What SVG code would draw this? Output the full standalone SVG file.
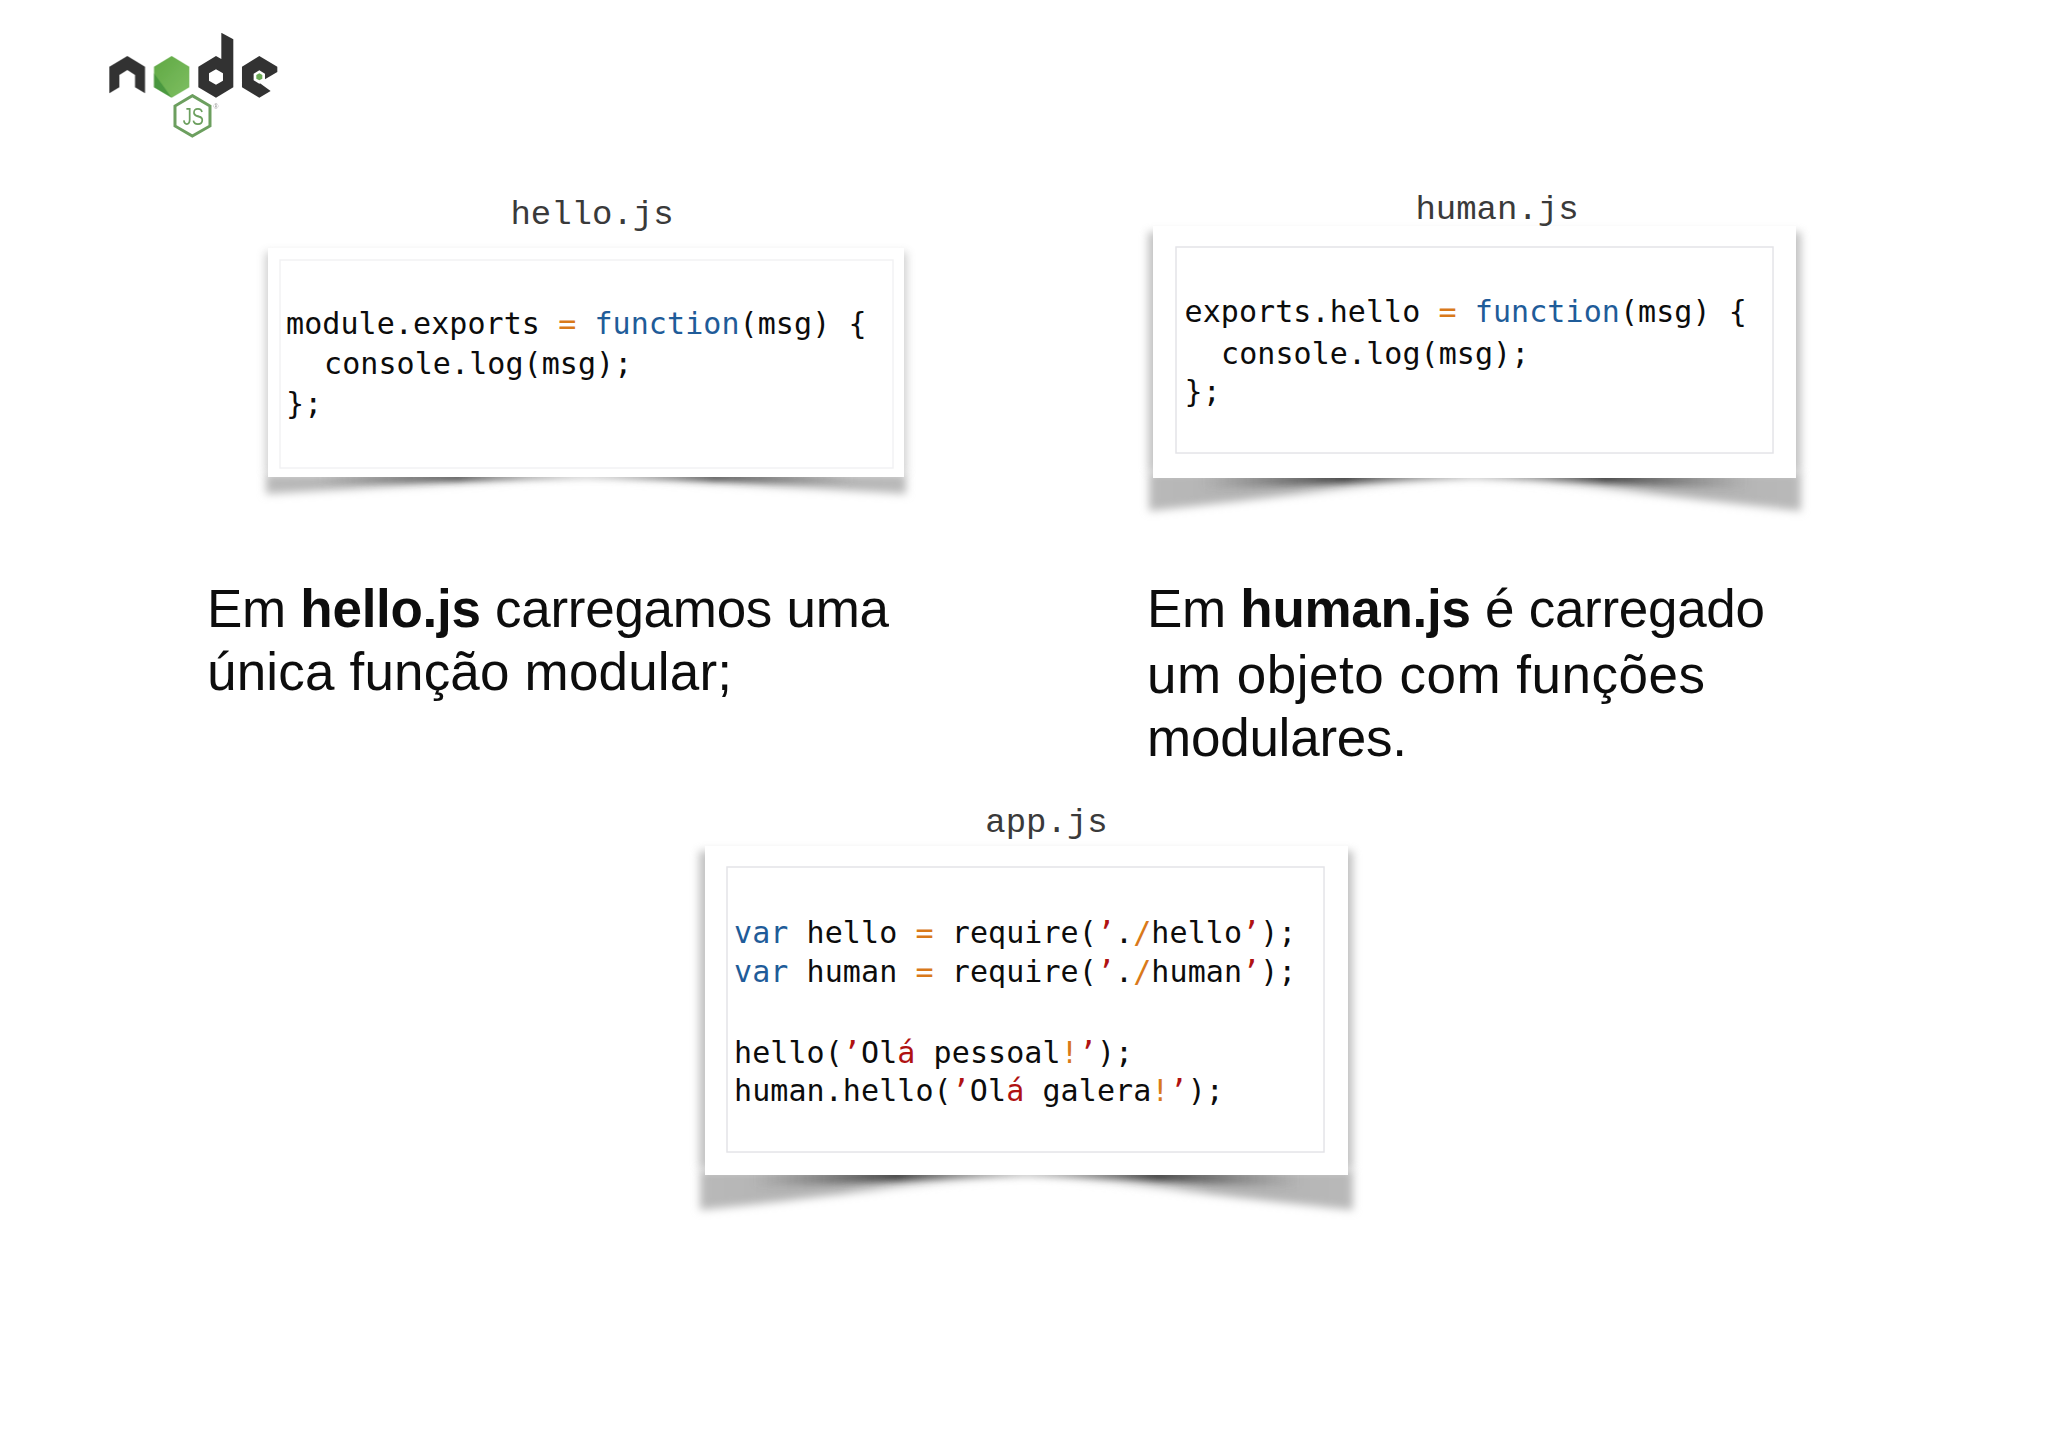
<svg xmlns="http://www.w3.org/2000/svg" width="2048" height="1448" viewBox="0 0 2048 1448">
<style>
.code{font-family:"DejaVu Sans Mono","Liberation Mono",monospace;font-size:30px;letter-spacing:.08px;fill:#0c0c0c;white-space:pre}
.kw{fill:#1f5c99}.op{fill:#d9791a}.st{fill:#b01212}
.file{font-family:"Liberation Mono",monospace;font-size:34px;fill:#3a3a3a;text-anchor:middle}
.body{font-family:"Liberation Sans",Arial,sans-serif;font-size:53px;fill:#0d0d0d}
.b{font-weight:700}
.card{fill:#fff}
.inner{fill:#fff;stroke:#e4e4e8;stroke-width:1.5}
.side{fill:#999;filter:url(#b5)}
.wing{fill:url(#wingG);filter:url(#b3)}
.core{fill:url(#coreG);filter:url(#b2)}
</style>
<defs>
<filter id="b5" x="-10%" y="-10%" width="120%" height="120%"><feGaussianBlur stdDeviation="4"/></filter>
<filter id="b3" x="-5%" y="-50%" width="110%" height="200%"><feGaussianBlur stdDeviation="4"/></filter>
<filter id="b2" x="-5%" y="-100%" width="110%" height="300%"><feGaussianBlur stdDeviation="3"/></filter>
<filter id="soft" x="-5%" y="-5%" width="110%" height="110%"><feGaussianBlur stdDeviation="1.5"/></filter>
<linearGradient id="wingG"><stop offset="0" stop-color="#b9b9b9"/><stop offset=".22" stop-color="#b0b0b0"/><stop offset=".5" stop-color="#f2f2f2"/><stop offset=".78" stop-color="#b0b0b0"/><stop offset="1" stop-color="#b9b9b9"/></linearGradient>
<linearGradient id="coreG"><stop offset=".08" stop-color="#666" stop-opacity="0"/><stop offset=".3" stop-color="#444" stop-opacity="1"/><stop offset=".5" stop-color="#bbb" stop-opacity=".7"/><stop offset=".7" stop-color="#444" stop-opacity="1"/><stop offset=".92" stop-color="#666" stop-opacity="0"/></linearGradient>
<linearGradient id="hexG" x1="0" y1="0" x2="1" y2="1"><stop offset="0" stop-color="#5fa844"/><stop offset="1" stop-color="#7fbf62"/></linearGradient>
</defs>

<g id="logo" transform="translate(80 10) scale(.3333)" filter="url(#soft)">
<path fill="#333" d="M88 170L142 138L195 170V250L165 232V195L142 180L118 195V232L88 250Z"/>
<path fill="url(#hexG)" d="M275 138L328 170V232L275 263L222 232V170Z"/>
<path fill="#3f8f3a" d="M222 190L275 263L222 232Z" opacity=".75"/>
<path fill="#333" fill-rule="evenodd" d="M424 147V68L460 88V232L408 263L355 232V170L408 138ZM408 178L387 190V212L408 224L429 212V190Z"/>
<path fill="#333" d="M538 138L592 170V186L555 208L538 218L572 243L538 263L486 232V170Z"/>
<path fill="#fff" d="M538 181L555 191V211L538 221L521 211V191Z"/>
<path fill="#6aaa55" d="M538 190L547 195V206L538 211L529 206V195Z"/>
<path fill="none" stroke="#6c9f5e" stroke-width="9" d="M337 257L390 288V348L337 378L285 348V288Z"/>
<text x="340" y="346" font-family="Liberation Sans,sans-serif" font-size="72" fill="#6c9f5e" text-anchor="middle" textLength="64" lengthAdjust="spacingAndGlyphs">JS</text>
<text x="408" y="296" font-family="Liberation Sans,sans-serif" font-size="20" fill="#999" text-anchor="middle">®</text>
</g>

<g id="connectors"></g>

<g id="hello">
<text class="file" x="592" y="224">hello.js</text>
<rect class="side" x="265" y="252" width="642" height="222" opacity=".45"/>
<path class="wing" d="M266 474H906V494C746 484 650 479 586 479C522 479 426 484 266 494Z"/>
<path class="core" d="M266 474H906V486C746 482 650 478 586 478C522 478 426 482 266 486Z"/>
<rect class="card" x="268" y="248" width="636" height="229"/>
<rect x="280" y="260" width="613" height="208" fill="#fff" stroke="#f2f2f4" stroke-width="1.5"/>
<text class="code" x="286" y="334">module.exports <tspan class="op">=</tspan> <tspan class="kw">function</tspan>(msg) {</text>
<text class="code" x="324" y="374">console.log(msg);</text>
<text class="code" x="286" y="414">};</text>
</g>

<g id="human">
<text class="file" x="1497" y="219">human.js</text>
<rect class="side" x="1148" y="232" width="653" height="240" opacity=".6"/>
<path class="wing" d="M1149 472H1801V511C1640 494 1560 480 1475 480C1390 480 1310 494 1149 511Z"/>
<path class="core" d="M1149 472H1801V490C1640 487 1560 479 1475 479C1390 479 1310 487 1149 490Z"/>
<rect class="card" x="1153" y="226" width="643" height="252"/>
<rect class="inner" x="1176" y="247" width="597" height="206"/>
<text class="code" x="1184.500" y="322">exports.hello <tspan class="op">=</tspan> <tspan class="kw">function</tspan>(msg) {</text>
<text class="code" x="1221" y="364">console.log(msg);</text>
<text class="code" x="1184.500" y="402">};</text>
</g>

<g id="app">
<text class="file" x="1046.500" y="832">app.js</text>
<rect class="side" x="699" y="851" width="654" height="318" opacity=".6"/>
<path class="wing" d="M700 1170H1353V1210C1190 1194 1110 1178 1026 1178C942 1178 862 1194 700 1210Z"/>
<path class="core" d="M700 1170H1353V1188C1190 1185 1110 1177 1026 1177C942 1177 862 1185 700 1188Z"/>
<rect class="card" x="705" y="846" width="643" height="329"/>
<rect class="inner" x="727" y="867" width="597" height="285"/>
<text class="code" x="734" y="943"><tspan class="kw">var</tspan> hello <tspan class="op">=</tspan> require(<tspan class="st">’</tspan>.<tspan class="op">/</tspan>hello<tspan class="st">’</tspan>);</text>
<text class="code" x="734" y="982"><tspan class="kw">var</tspan> human <tspan class="op">=</tspan> require(<tspan class="st">’</tspan>.<tspan class="op">/</tspan>human<tspan class="st">’</tspan>);</text>
<text class="code" x="734" y="1063">hello(<tspan class="st">’</tspan>Ol<tspan class="st">á</tspan> pessoal<tspan class="op">!</tspan><tspan class="st">’</tspan>);</text>
<text class="code" x="734" y="1101">human.hello(<tspan class="st">’</tspan>Ol<tspan class="st">á</tspan> galera<tspan class="op">!</tspan><tspan class="st">’</tspan>);</text>
</g>

<g id="caption-hello">
<text class="body" x="207" y="627" textLength="682">Em <tspan class="b">hello.js</tspan> carregamos uma</text>
<text class="body" x="207" y="690" textLength="525">única função modular;</text>
</g>
<g id="caption-human">
<text class="body" x="1147" y="627" textLength="618">Em <tspan class="b">human.js</tspan> é carregado</text>
<text class="body" x="1147" y="693" textLength="558">um objeto com funções</text>
<text class="body" x="1147" y="756" textLength="260">modulares.</text>
</g>
</svg>
